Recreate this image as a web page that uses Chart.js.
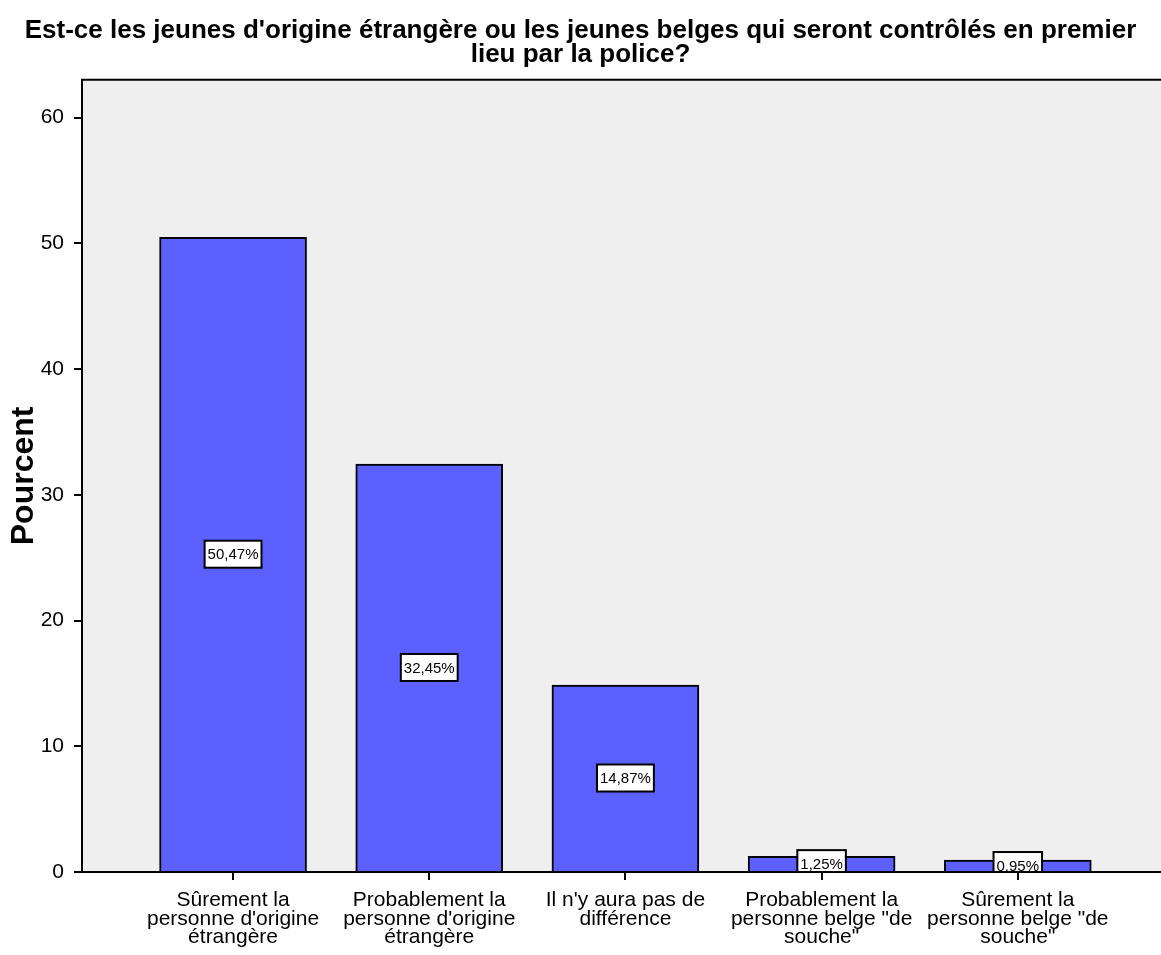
<!DOCTYPE html>
<html>
<head>
<meta charset="utf-8">
<script src="https://cdn.jsdelivr.net/npm/chart.js@4.4.1/dist/chart.umd.min.js"></script>
<style>
  html, body { margin: 0; padding: 0; background: #fff; }
  #wrap { width: 1161px; height: 955px; }
</style>
</head>
<body>
<div id="wrap"><canvas id="myChart" width="1161" height="955"></canvas></div>
<script>
const categories = [
  ["Sûrement la", "personne d'origine", "étrangère"],
  ["Probablement la", "personne d'origine", "étrangère"],
  ["Il n'y aura pas de", "différence"],
  ["Probablement la", "personne belge \"de", "souche\""],
  ["Sûrement la", "personne belge \"de", "souche\""]
];
const percents = [50.47, 32.45, 14.87, 1.25, 0.95];
const percentLabels = ["50,47%", "32,45%", "14,87%", "1,25%", "0,95%"];
const yTicks = [0, 10, 20, 30, 40, 50, 60];

const FONT = "'Liberation Sans', Arial, sans-serif";
Chart.defaults.font.family = FONT;
Chart.defaults.color = "#000";

const ctx = document.getElementById("myChart").getContext("2d");

const myChart = new Chart(ctx, {
  type: "bar",
  data: {
    datasets: [
      {
        data: percents.map((v, i) => ({ x: i, y: v })),
        backgroundColor: "#5b60ff",
        borderColor: "#000",
        borderWidth: 2,
        barThickness: 147,
      },
    ],
  },
  options: {
    responsive: false,
    animation: false,
    layout: { padding: { left: 0, right: 0, top: 0, bottom: 0 } },
    plugins: {
      legend: { display: false },
      tooltip: { enabled: false },
      title: {
        display: true,
        text: [
          "Est-ce les jeunes d'origine étrangère ou les jeunes belges qui seront contrôlés en premier",
          "lieu par la police?",
        ],
        font: { size: 26, weight: "bold", lineHeight: 0.92 },
        color: "#000",
        padding: { top: 19, bottom: 13 },
      },
    },
    scales: {
      x: {
        type: "linear",
        min: -0.77,
        max: 4.73,
        offset: false,
        afterBuildTicks(axis) {
          axis.ticks = categories.map((c, i) => ({ value: i }));
        },
        afterFit(scale) {
          scale.height = 83;
        },
        ticks: {
          autoSkip: false,
          maxRotation: 0,
          padding: 11,
          font: { size: 21, lineHeight: 0.88 },
          color: "#000",
          callback: (value) => categories[value] || "",
        },
        grid: {
          offset: false,
          drawOnChartArea: false,
          drawTicks: true,
          tickLength: 8,
          color: "#000",
          lineWidth: 2,
        },
        border: { display: true, color: "#000", width: 2 },
      },
      y: {
        min: 0,
        max: 63,
        afterBuildTicks(axis) {
          axis.ticks = yTicks.map((v) => ({ value: v }));
        },
        afterFit(scale) {
          scale.width = 82;
        },
        ticks: {
          padding: 10,
          font: { size: 21 },
          color: "#000",
        },
        title: {
          display: true,
          text: "Pourcent",
          font: { size: 32, weight: "bold", lineHeight: 1.1 },
          color: "#000",
          padding: { top: 7, bottom: 0 },
        },
        grid: {
          drawOnChartArea: false,
          drawTicks: true,
          tickLength: 8,
          color: "#000",
          lineWidth: 2,
        },
        border: { display: true, color: "#000", width: 2 },
      },
    },
  },
  plugins: [
    {
      id: "plotBackground",
      beforeDraw(chart) {
        const { ctx, chartArea } = chart;
        ctx.save();
        ctx.fillStyle = "#efefef";
        ctx.fillRect(chartArea.left, chartArea.top, chartArea.right - chartArea.left, chartArea.bottom - chartArea.top);
        ctx.restore();
      },
      afterDraw(chart) {
        // 上の枠線
        const { ctx, chartArea } = chart;
        ctx.save();
        ctx.strokeStyle = "#000";
        ctx.lineWidth = 2;
        ctx.beginPath();
        ctx.moveTo(chartArea.left - 1, chartArea.top);
        ctx.lineTo(chartArea.right, chartArea.top);
        ctx.stroke();
        ctx.restore();
      },
    },
    {
      id: "boxLabels",
      afterDatasetsDraw(chart) {
        const { ctx, chartArea } = chart;
        const meta = chart.getDatasetMeta(0);
        ctx.save();
        ctx.beginPath();
        ctx.rect(chartArea.left, chartArea.top, chartArea.right - chartArea.left, chartArea.bottom - chartArea.top - 1);
        ctx.clip();
        ctx.font = "15px " + FONT;
        ctx.textAlign = "center";
        ctx.textBaseline = "middle";
        meta.data.forEach((bar, i) => {
          const text = percentLabels[i];
          const w = ctx.measureText(text).width + 6;
          const h = 27;
          const cx = bar.x;
          const cy = (bar.y + bar.base) / 2;
          ctx.fillStyle = "#fff";
          ctx.fillRect(cx - w / 2, cy - h / 2, w, h);
          ctx.strokeStyle = "#000";
          ctx.lineWidth = 2;
          ctx.strokeRect(cx - w / 2, cy - h / 2, w, h);
          ctx.fillStyle = "#000";
          ctx.fillText(text, cx, cy + 1);
        });
        ctx.restore();
      },
    },
  ],
});
</script>
</body>
</html>
